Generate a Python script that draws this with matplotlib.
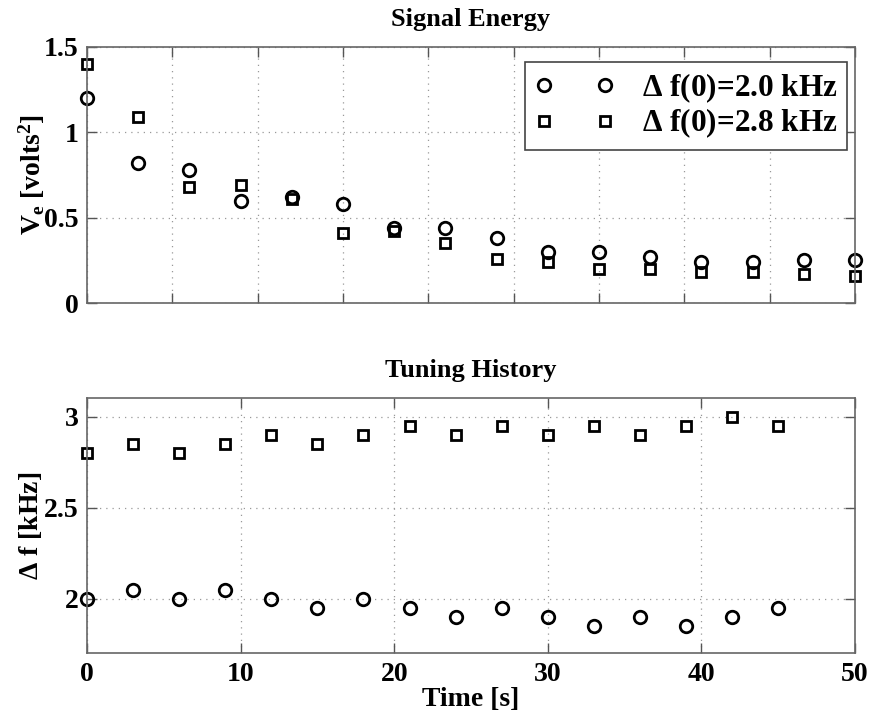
import numpy as np
import matplotlib
matplotlib.use("Agg")
import matplotlib.pyplot as plt

plt.rcParams['font.family'] = ['Liberation Serif', 'DejaVu Serif']
plt.rcParams['font.weight'] = 'bold'
plt.rcParams['axes.labelweight'] = 'bold'
plt.rcParams['axes.titleweight'] = 'bold'
plt.rcParams['mathtext.fontset'] = 'custom'
plt.rcParams['mathtext.rm'] = 'Liberation Serif:bold'
plt.rcParams['mathtext.it'] = 'Liberation Serif:bold'
plt.rcParams['mathtext.bf'] = 'Liberation Serif:bold'

# sample times [s]
time_s = [0, 3, 6, 9, 12, 15, 18, 21, 24, 27, 30, 33, 36, 39, 42, 45]

# signal energy V_e [volts^2]
energy_20 = [1.20, 0.82, 0.78, 0.60, 0.62, 0.58, 0.44, 0.44, 0.38, 0.30,
             0.30, 0.27, 0.24, 0.24, 0.25, 0.25]
energy_28 = [1.40, 1.09, 0.68, 0.69, 0.61, 0.41, 0.42, 0.35, 0.26, 0.24,
             0.20, 0.20, 0.18, 0.18, 0.17, 0.16]

# tuning history delta f [kHz]
tune_20 = [2.00, 2.05, 2.00, 2.05, 2.00, 1.95, 2.00, 1.95, 1.90, 1.95,
           1.90, 1.85, 1.90, 1.85, 1.90, 1.95]
tune_28 = [2.80, 2.85, 2.80, 2.85, 2.90, 2.85, 2.90, 2.95, 2.90, 2.95,
           2.90, 2.95, 2.90, 2.95, 3.00, 2.95]

labels = [r'$\Delta$ f(0)=2.0 kHz', r'$\Delta$ f(0)=2.8 kHz']

fig = plt.figure(figsize=(8.72, 7.2), dpi=100)
ax1 = fig.add_axes([0.0998, 0.579, 0.8807, 0.356])
ax2 = fig.add_axes([0.0998, 0.0926, 0.8807, 0.3542])

circ = dict(marker='o', linestyle='none', markersize=9, markerfacecolor='none',
            markeredgecolor='black', markeredgewidth=2.0, color='black')
sq = dict(marker='s', linestyle='none', markersize=6.5, markerfacecolor='none',
          markeredgecolor='black', markeredgewidth=2.0, color='black')


def style(ax):
    ax.grid(True, linestyle=(0, (1, 4)), color='#999999', linewidth=0.9)
    ax.tick_params(direction='in', top=True, right=True, length=7,
                   width=1.0, color='#555555', labelsize=20, pad=6)
    for s in ax.spines.values():
        s.set_color('#666666')
        s.set_linewidth(1.2)


ax1.plot(time_s, energy_20, label=labels[0], clip_on=False, **circ)
ax1.plot(time_s, energy_28, label=labels[1], clip_on=False, **sq)
ax1.set_xlim(0, 45)
ax1.set_ylim(0, 1.5)
ax1.set_xticks(np.arange(0, 46, 5))
ax1.set_xticklabels([])
ax1.set_yticks([0, 0.5, 1, 1.5])
ax1.set_yticklabels(['0', '0.5', '1', '1.5'])
style(ax1)
ax1.set_title('Signal Energy', fontsize=19, pad=15)
ax1.set_ylabel(r'V$_e$ [volts$^2$]', fontsize=20, labelpad=-2)
leg = ax1.legend(loc='upper right', numpoints=2, fontsize=22.5,
                 handlelength=2.55, handletextpad=0.9, borderpad=0.3,
                 labelspacing=0.05, borderaxespad=0, fancybox=False,
                 framealpha=1, bbox_to_anchor=(0.99, 0.94))
leg.get_frame().set_edgecolor('#444444')
leg.get_frame().set_linewidth(1.2)

ax2.plot(time_s, tune_20, clip_on=False, **circ)
ax2.plot(time_s, tune_28, clip_on=False, **sq)
ax2.set_xlim(0, 50)
ax2.set_ylim(1.7, 3.1)
ax2.set_xticks([0, 10, 20, 30, 40, 50])
ax2.set_yticks([2, 2.5, 3])
ax2.set_yticklabels(['2', '2.5', '3'])
style(ax2)
ax2.set_title('Tuning History', fontsize=19, pad=15)
ax2.set_xlabel('Time [s]', fontsize=20, labelpad=0)
ax2.set_ylabel(r'$\Delta$ f [kHz]', fontsize=20, labelpad=0)

fig.savefig('out.png', dpi=100)
